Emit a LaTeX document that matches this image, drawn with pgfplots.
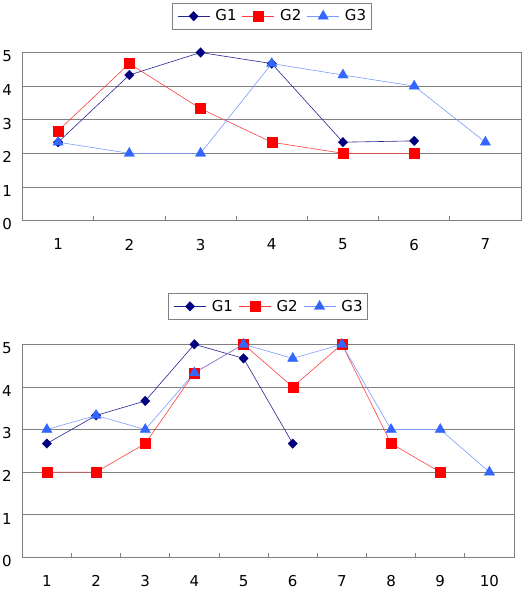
\documentclass[border=0pt]{standalone}
\usepackage{pgfplots}
\pgfplotsset{compat=1.18}
\usepackage{fontspec}
\setmainfont{DejaVu Sans}
\definecolor{gone}{RGB}{0,0,128}
\definecolor{gtwo}{RGB}{255,0,0}
\definecolor{gthree}{RGB}{51,102,255}
\definecolor{gridc}{RGB}{128,128,128}
\pgfplotsset{
  mychart/.style={
    scale only axis,
    ymin=0, ymax=5, ytick={0,1,2,3,4,5},
    ymajorgrids, grid style={draw=gridc, line width=0.8pt},
    axis line style={draw=gridc, line width=0.8pt},
    tick align=inside,
    xtick pos=bottom, ytick pos=left,
    major x tick style={draw=none},
    major y tick style={draw=none},
    minor x tick style={draw=gridc, line width=0.8pt},
    minor tick length=4.5pt,
    font=\fontsize{15}{17}\selectfont,
    /pgf/number format/assume math mode=true,
    xticklabel style={yshift=-15pt},
    yticklabel style={xshift=-7pt, yshift=-4pt},
    legend columns=3,
    legend style={draw=gridc, line width=0.8pt, font=\fontsize{15}{17}\selectfont,
      inner xsep=5pt, inner ysep=6.5pt, row sep=0pt,
      nodes={inner sep=0pt},
      /tikz/every odd column/.append style={column sep=5.5pt},
      /tikz/every even column/.append style={column sep=5.5pt}},
    legend image code/.code={\draw[mark repeat=2,mark phase=2,#1] plot coordinates {(0pt,0pt) (16pt,0pt) (32pt,0pt)};},
    legend cell align=left,
  },
  gone/.style={color=gone!85!white, line width=0.6pt, mark=diamond*, mark size=4.8pt, mark options={fill=gone, draw=gone, line width=0.3pt, xscale=1.3}},
  gtwo/.style={color=gtwo!75!white, line width=0.6pt, mark=square*, mark size=5pt, mark options={fill=gtwo, draw=gtwo, line width=0.3pt}},
  gthree/.style={color=gthree!65!white, line width=0.6pt, mark=triangle*, mark size=6pt, mark options={fill=gthree, draw=gthree, line width=0.3pt}},
}
\begin{document}
\begin{tikzpicture}
\path[use as bounding box] (0pt,0pt) rectangle (529pt,-595pt);
\begin{axis}[mychart,
  at={(22.5pt,-220.5pt)}, anchor=south west,
  width=498.5pt, height=168pt,
  xmin=0.5, xmax=7.5, xtick={1,...,7}, minor xtick={1.5,2.5,...,6.5},
  legend style={at={(0.5,1.295)}, anchor=north},
]
\addplot[gone] coordinates {(1,2.33) (2,4.33) (3,5) (4,4.67) (5,2.33) (6,2.37)};
\addplot[gtwo] coordinates {(1,2.67) (2,4.67) (3,3.33) (4,2.33) (5,2) (6,2)};
\addplot[gthree] coordinates {(1,2.33) (2,2) (3,2) (4,4.67) (5,4.33) (6,4) (7,2.33)};
\legend{G1,G2,G3}
\end{axis}
\begin{axis}[mychart,
  at={(22.3pt,-557.3pt)}, anchor=south west,
  width=491.7pt, height=213pt,
  xmin=0.5, xmax=10.5, xtick={1,...,10}, minor xtick={1.5,2.5,...,9.5},
  legend style={at={(0.5,1.24)}, anchor=north},
]
\addplot[gone] coordinates {(1,2.67) (2,3.33) (3,3.67) (4,5) (5,4.67) (6,2.67)};
\addplot[gtwo] coordinates {(1,2) (2,2) (3,2.67) (4,4.33) (5,5) (6,4) (7,5) (8,2.67) (9,2)};
\addplot[gthree] coordinates {(1,3) (2,3.33) (3,3) (4,4.33) (5,5) (6,4.67) (7,5) (8,3) (9,3) (10,2)};
\legend{G1,G2,G3}
\end{axis}
\end{tikzpicture}
\end{document}
